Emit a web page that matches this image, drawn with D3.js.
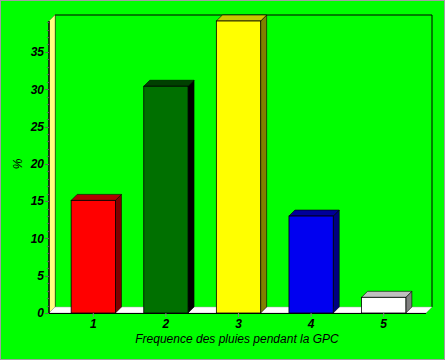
<!DOCTYPE html>
<html>
<head>
<meta charset="utf-8">
<script src="https://cdn.jsdelivr.net/npm/d3@7"></script>
<style>
  body { margin: 0; }
  text { font-family: "Liberation Sans", Arial, sans-serif; }
</style>
</head>
<body>
<script>
const width = 445;
const height = 360;
const depth = 6;

// data
const categories = ["1", "2", "3", "4", "5"];
const values = [15.1, 30.4, 39.15, 13.0, 2.1];
const yTicks = [0, 5, 10, 15, 20, 25, 30, 35];
const xTitle = "Frequence des pluies pendant la GPC";
const yTitle = "%";

// palette: front, top, side
const fronts = ["#ff0000", "#007000", "#ffff00", "#0000f0", "#ffffff"];
const tops = ["#b00000", "#004000", "#c8c800", "#000098", "#c0c0c0"];
const sides = ["#800000", "#000000", "#808000", "#000080", "#808080"];

const plot = { left: 49, right: 426, top: 21, bottom: 313 };

const svg = d3.select("body").append("svg")
    .attr("width", width)
    .attr("height", height);

svg.append("rect")
    .attr("width", width)
    .attr("height", height)
    .attr("fill", "#00ff00");

svg.append("rect")
    .attr("x", 0.5)
    .attr("y", 0.5)
    .attr("width", width - 1)
    .attr("height", height - 1)
    .attr("fill", "none")
    .attr("stroke", "#a0a0a0");

const x = d3.scaleBand()
    .domain(categories)
    .range([57, 420])
    .paddingInner(0.39)
    .paddingOuter(0.195);

const y = d3.scaleLinear()
    .domain([0, d3.max(values)])
    .range([plot.bottom, plot.top]);

// back wall
svg.append("path")
    .attr("d", `M${plot.left + depth},${plot.bottom - depth}V${plot.top - depth}H${plot.right + depth}V${plot.bottom - depth}`)
    .attr("fill", "none")
    .attr("stroke", "black");

// left wall
svg.append("polygon")
    .attr("points", [[plot.left, plot.top], [plot.left + depth, plot.top - depth],
        [plot.left + depth, plot.bottom - depth], [plot.left, plot.bottom]])
    .attr("fill", "#ffff80")
    .attr("stroke", "#808040")
    .attr("stroke-width", 0.5);

// floor
svg.append("polygon")
    .attr("points", [[plot.left, plot.bottom], [plot.left + depth, plot.bottom - depth],
        [plot.right + depth, plot.bottom - depth], [plot.right, plot.bottom]])
    .attr("fill", "white")
    .attr("stroke", "#a0a0a0")
    .attr("stroke-width", 0.5);

// bars
const bars = svg.append("g")
    .selectAll("g")
    .data(values)
    .join("g");

bars.append("polygon")
    .attr("points", (d, i) => {
        const x0 = x(categories[i]) + x.bandwidth();
        return [[x0, y(d)], [x0 + depth, y(d) - depth], [x0 + depth, y(0) - depth], [x0, y(0)]];
    })
    .attr("fill", (d, i) => sides[i])
    .attr("stroke", "black")
    .attr("stroke-width", 0.6);

bars.append("polygon")
    .attr("points", (d, i) => {
        const x0 = x(categories[i]);
        const x1 = x0 + x.bandwidth();
        return [[x0, y(d)], [x0 + depth, y(d) - depth], [x1 + depth, y(d) - depth], [x1, y(d)]];
    })
    .attr("fill", (d, i) => tops[i])
    .attr("stroke", "black")
    .attr("stroke-width", 0.6);

bars.append("rect")
    .attr("x", (d, i) => x(categories[i]))
    .attr("y", d => y(d))
    .attr("width", x.bandwidth())
    .attr("height", d => y(0) - y(d))
    .attr("fill", (d, i) => fronts[i])
    .attr("stroke", "black")
    .attr("stroke-width", 0.8);

// y axis
svg.append("line")
    .attr("x1", plot.left)
    .attr("x2", plot.left)
    .attr("y1", plot.top)
    .attr("y2", plot.bottom)
    .attr("stroke", "black")
    .attr("stroke-width", 1.5);

svg.append("g")
    .selectAll("line")
    .data(d3.range(0, Math.floor(d3.max(values)) + 1))
    .join("line")
    .attr("x1", d => d % 5 === 0 ? plot.left - 4 : plot.left - 2)
    .attr("x2", plot.left)
    .attr("y1", d => Math.round(y(d)) + 0.5)
    .attr("y2", d => Math.round(y(d)) + 0.5)
    .attr("stroke", "#606060");

svg.append("g")
    .selectAll("text")
    .data(yTicks)
    .join("text")
    .attr("x", 44)
    .attr("y", d => y(d))
    .attr("dy", "0.36em")
    .attr("text-anchor", "end")
    .attr("font-size", 12)
    .attr("font-style", "italic")
    .attr("font-weight", "bold")
    .text(d => d);

// x axis
svg.append("line")
    .attr("x1", plot.left)
    .attr("x2", plot.right)
    .attr("y1", plot.bottom + 0.5)
    .attr("y2", plot.bottom + 0.5)
    .attr("stroke", "black");

svg.append("g")
    .selectAll("line")
    .data(categories)
    .join("line")
    .attr("x1", d => x(d) + x.bandwidth() / 2)
    .attr("x2", d => x(d) + x.bandwidth() / 2)
    .attr("y1", plot.bottom)
    .attr("y2", plot.bottom + 4)
    .attr("stroke", "#808080");

svg.append("g")
    .selectAll("text")
    .data(categories)
    .join("text")
    .attr("x", d => x(d) + x.bandwidth() / 2)
    .attr("y", 328)
    .attr("text-anchor", "middle")
    .attr("font-size", 12)
    .attr("font-style", "italic")
    .attr("font-weight", "bold")
    .text(d => d);

svg.append("text")
    .attr("x", 237)
    .attr("y", 343)
    .attr("text-anchor", "middle")
    .attr("font-size", 12)
    .attr("font-style", "italic")
    .text(xTitle);

svg.append("text")
    .attr("transform", "translate(22,164) rotate(-90)")
    .attr("text-anchor", "middle")
    .attr("font-size", 12)
    .attr("font-style", "italic")
    .text(yTitle);
</script>
</body>
</html>
